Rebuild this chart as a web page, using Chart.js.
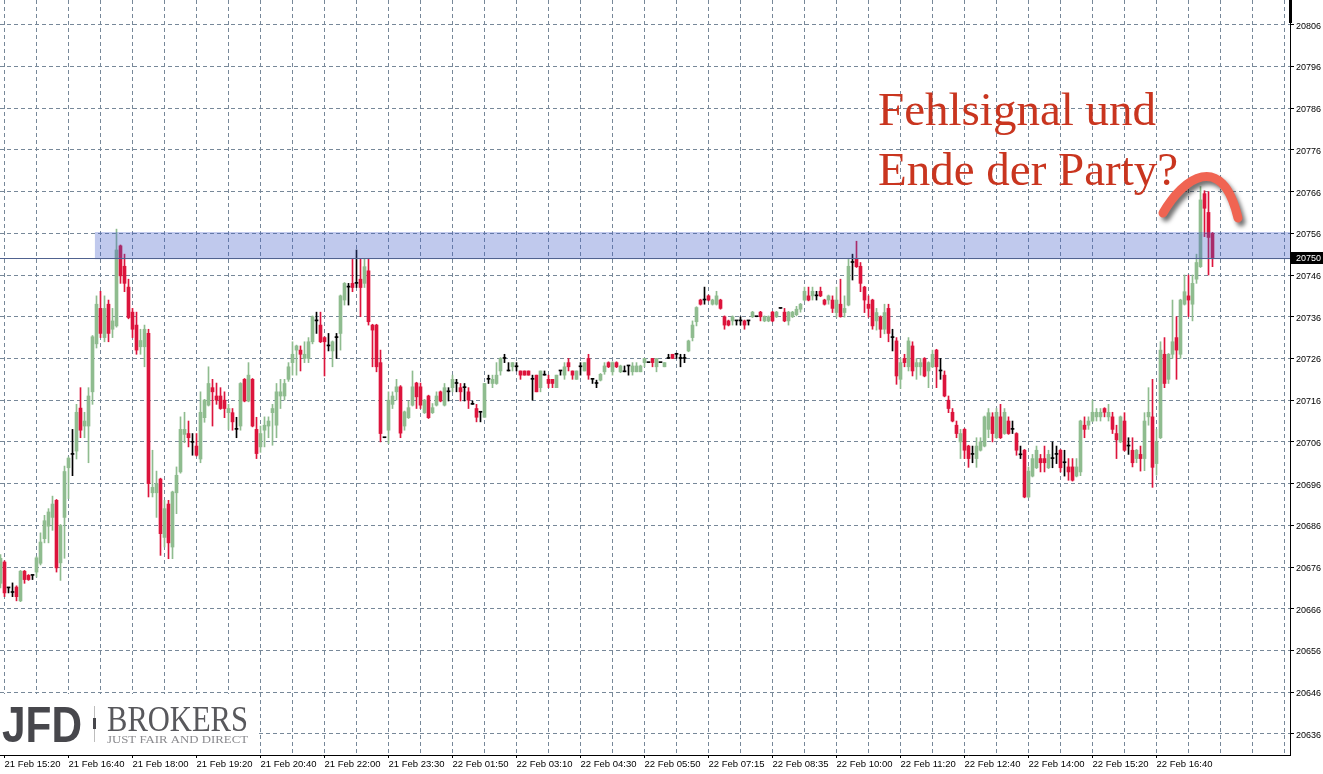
<!DOCTYPE html>
<html>
<head>
<meta charset="utf-8">
<script src="https://cdn.jsdelivr.net/npm/chart.js@4/dist/chart.umd.min.js"></script>
<style>
html,body{margin:0;padding:0;background:#ffffff;}
#wrap{width:1323px;height:774px;position:relative;}
</style>
</head>
<body>
<div id="wrap"><canvas id="c"></canvas></div>
<script>
// ---- tick labels ----
const timeLabels = ['21 Feb 15:20','21 Feb 16:40','21 Feb 18:00','21 Feb 19:20','21 Feb 20:40','21 Feb 22:00','21 Feb 23:30',
  '22 Feb 01:50','22 Feb 03:10','22 Feb 04:30','22 Feb 05:50','22 Feb 07:15','22 Feb 08:35','22 Feb 10:00',
  '22 Feb 11:20','22 Feb 12:40','22 Feb 14:00','22 Feb 15:20','22 Feb 16:40'];
const yTickValues = [20806,20796,20786,20776,20766,20756,20746,20736,20726,20716,20706,20696,20686,20676,20666,20656,20646,20636];

// ---- candle series (M5) ----
const opens = [
20672.1,20677.2,20671.0,20669.9,20671.2,20667.9,20675.0,20674.0,20674.0,20674.8,
20676.9,20682.8,20685.8,20687.9,20692.0,20677.0,20687.9,20699.8,20703.0,20703.8,
20714.1,20709.8,20709.8,20718.0,20729.5,20738.0,20731.0,20739.0,20733.0,20733.8,
20753.0,20748.1,20743.1,20737.1,20734.0,20728.8,20728.8,20732.0,20693.8,20693.8,
20697.1,20683.1,20691.1,20680.8,20693.8,20698.8,20707.8,20708.0,20705.9,20705.0,
20701.9,20711.8,20714.8,20719.0,20717.0,20717.0,20716.0,20713.0,20713.0,20709.0,
20709.8,20721.0,20715.8,20721.0,20709.0,20704.8,20708.8,20709.8,20713.0,20710.0,
20717.0,20717.0,20721.0,20725.0,20728.0,20728.0,20726.0,20726.0,20730.0,20735.0,
20734.0,20731.0,20729.0,20727.8,20731.0,20732.0,20740.0,20743.1,20744.0,20744.0,
20745.0,20744.0,20747.0,20734.0,20734.0,20725.0,20707.0,20708.8,20715.0,20718.0,
20719.2,20709.8,20711.8,20714.8,20720.1,20719.2,20713.0,20717.0,20713.0,20714.8,
20718.0,20714.8,20718.0,20719.0,20720.0,20719.0,20719.0,20718.0,20715.0,20714.0,
20713.1,20711.9,20721.0,20720.0,20720.0,20723.0,20726.0,20723.0,20724.0,20724.0,
20723.0,20723.0,20723.0,20721.0,20722.0,20719.0,20722.0,20721.0,20721.0,20719.0,
20723.0,20722.0,20725.0,20723.0,20721.0,20724.0,20723.0,20726.0,20721.0,20720.0,
20720.8,20722.8,20725.0,20722.8,20725.0,20722.8,20722.8,20724.2,20722.8,20722.8,
20722.8,20725.0,20725.0,20726.0,20724.0,20725.0,20724.0,20726.0,20727.0,20727.0,
20726.0,20726.0,20727.8,20731.0,20734.8,20740.0,20740.0,20741.0,20739.0,20739.0,
20740.0,20736.0,20735.0,20735.0,20735.0,20735.0,20735.0,20735.0,20736.0,20736.0,
20737.1,20735.0,20735.0,20737.1,20736.0,20738.0,20737.1,20735.0,20736.0,20736.5,
20737.8,20740.0,20741.0,20741.0,20741.0,20742.1,20740.0,20740.0,20740.0,20737.0,
20739.0,20737.0,20738.8,20749.0,20750.0,20748.1,20743.1,20739.0,20740.0,20735.0,
20736.0,20733.0,20738.0,20731.0,20730.2,20721.0,20726.0,20724.0,20729.0,20724.0,
20724.0,20726.0,20723.0,20724.0,20728.0,20723.0,20722.0,20716.0,20713.1,20710.0,
20706.0,20709.0,20705.0,20703.0,20702.0,20704.0,20705.0,20709.0,20712.0,20707.0,
20712.0,20708.0,20711.0,20709.0,20708.0,20702.9,20704.0,20692.8,20697.8,20699.8,
20702.0,20702.0,20699.8,20702.0,20703.0,20704.0,20701.0,20700.0,20700.0,20697.8,
20698.8,20710.0,20710.0,20711.0,20712.0,20712.0,20714.0,20712.0,20712.0,20708.0,
20706.0,20711.0,20705.0,20704.0,20702.0,20703.0,20702.0,20712.0,20712.0,20700.8,
20707.0,20727.0,20721.0,20727.0,20731.0,20727.0,20739.0,20741.0,20739.0,20745.0,
20748.0,20765.5,20761.0,20756.0];
const highs = [
20679.0,20677.5,20671.0,20672.2,20671.5,20675.2,20675.2,20674.2,20674.0,20678.5,
20684.2,20688.4,20690.0,20693.0,20692.2,20686.2,20700.2,20702.4,20709.0,20715.0,
20719.0,20713.1,20719.0,20731.5,20741.0,20742.1,20741.0,20740.0,20738.0,20757.0,
20753.2,20751.0,20745.0,20738.0,20737.1,20733.0,20734.0,20733.0,20704.0,20699.0,
20697.3,20692.0,20692.0,20694.2,20700.0,20712.0,20713.1,20711.0,20708.0,20708.0,
20718.0,20716.2,20724.0,20721.0,20720.1,20719.0,20718.0,20715.0,20714.0,20711.9,
20720.2,20721.2,20725.0,20721.2,20711.9,20709.8,20712.0,20712.0,20715.0,20720.0,
20721.0,20721.0,20725.0,20730.0,20729.2,20729.0,20730.0,20731.0,20736.2,20737.1,
20737.1,20731.2,20732.0,20730.2,20732.0,20741.2,20744.2,20744.0,20750.0,20752.0,
20750.0,20750.0,20750.0,20734.2,20734.2,20728.0,20707.0,20718.0,20718.0,20721.0,
20719.5,20713.4,20715.8,20723.0,20720.3,20720.1,20716.2,20717.2,20715.2,20718.0,
20718.2,20720.0,20719.0,20722.0,20721.0,20720.0,20720.0,20719.0,20715.8,20715.0,
20713.1,20720.0,20722.0,20722.0,20725.0,20726.2,20727.0,20725.0,20725.0,20725.0,
20723.0,20723.0,20723.0,20722.0,20722.0,20723.0,20723.0,20722.0,20721.0,20722.0,
20723.0,20725.0,20726.0,20723.0,20723.0,20725.0,20725.0,20727.0,20721.0,20720.8,
20722.4,20725.0,20725.2,20725.2,20725.2,20724.4,20724.2,20724.2,20725.0,20725.0,
20724.4,20726.0,20725.0,20726.0,20726.0,20725.0,20725.0,20727.0,20727.0,20727.0,
20727.0,20727.0,20730.4,20735.0,20738.4,20740.2,20743.1,20741.2,20740.2,20742.1,
20740.2,20736.2,20735.2,20736.2,20735.0,20736.0,20735.2,20735.0,20737.3,20736.0,
20737.3,20736.2,20736.2,20737.3,20737.3,20738.0,20738.0,20737.3,20737.3,20738.5,
20739.2,20743.1,20743.1,20743.1,20742.1,20743.1,20740.2,20741.2,20741.0,20743.1,
20745.0,20741.0,20750.0,20751.0,20754.1,20749.0,20743.3,20741.0,20740.2,20738.0,
20736.2,20739.0,20739.0,20733.0,20731.0,20726.0,20727.0,20731.0,20730.0,20726.0,
20726.0,20726.2,20725.2,20728.0,20728.2,20726.0,20723.0,20717.0,20714.0,20711.0,
20709.0,20709.2,20705.2,20705.0,20707.0,20707.0,20712.2,20714.0,20713.0,20714.0,
20715.0,20714.0,20712.0,20711.0,20708.2,20705.0,20704.2,20700.0,20703.0,20705.0,
20703.0,20705.0,20704.0,20706.0,20705.0,20704.2,20704.0,20702.0,20702.0,20702.0,
20711.2,20712.0,20712.0,20716.0,20714.0,20714.0,20714.2,20715.0,20713.1,20710.0,
20712.2,20713.0,20707.0,20707.0,20704.2,20705.0,20713.0,20719.0,20721.0,20709.0,
20730.0,20731.0,20727.2,20740.0,20736.0,20740.2,20746.0,20746.0,20746.0,20751.0,
20767.2,20766.2,20766.0,20756.2];
const lows = [
20671.0,20668.9,20669.8,20668.9,20667.9,20667.7,20672.1,20672.8,20673.0,20673.6,
20676.5,20681.8,20681.8,20684.8,20674.8,20672.8,20678.1,20692.4,20697.9,20701.9,
20707.0,20707.0,20701.0,20715.0,20728.5,20731.0,20730.0,20730.0,20731.0,20733.5,
20744.0,20742.0,20735.5,20731.0,20727.0,20727.0,20724.0,20692.8,20692.8,20687.9,
20678.8,20680.8,20678.0,20678.0,20688.8,20698.5,20705.8,20704.8,20702.8,20702.6,
20701.0,20710.7,20714.6,20709.8,20715.0,20713.8,20711.8,20709.0,20708.8,20707.0,
20708.8,20715.6,20715.6,20709.6,20702.0,20703.5,20704.8,20707.0,20705.2,20707.0,
20714.0,20716.0,20720.5,20722.0,20722.0,20723.0,20725.0,20725.0,20729.5,20732.0,
20729.8,20721.8,20727.8,20724.0,20726.0,20728.0,20738.8,20738.8,20742.0,20743.0,
20736.0,20743.0,20734.0,20724.0,20722.8,20706.0,20707.0,20705.6,20714.0,20716.0,
20707.0,20708.8,20711.6,20714.6,20714.0,20714.0,20712.8,20711.6,20712.8,20714.6,
20715.6,20714.6,20715.8,20718.0,20718.0,20715.8,20715.8,20714.0,20715.0,20710.8,
20710.8,20711.9,20720.0,20719.0,20719.8,20722.0,20725.0,20723.0,20723.0,20723.0,
20721.0,20722.0,20722.0,20716.0,20718.0,20718.0,20722.0,20719.0,20719.0,20719.0,
20722.0,20721.0,20723.0,20721.0,20721.0,20722.0,20723.0,20721.0,20720.0,20719.0,
20720.6,20722.2,20723.8,20722.0,20723.8,20722.6,20722.8,20722.0,20722.0,20722.8,
20722.8,20724.0,20725.0,20724.0,20722.8,20725.0,20724.0,20726.0,20726.0,20726.0,
20724.0,20725.0,20727.6,20730.2,20733.8,20738.8,20739.0,20739.8,20738.8,20738.8,
20737.8,20733.0,20733.8,20734.0,20734.0,20734.0,20733.0,20734.0,20735.8,20736.0,
20735.0,20734.8,20734.8,20734.8,20735.8,20738.0,20734.8,20734.0,20735.8,20736.2,
20737.1,20739.8,20739.8,20740.0,20740.0,20740.8,20738.8,20739.0,20737.0,20735.9,
20735.9,20735.9,20738.6,20744.8,20747.8,20742.0,20737.0,20735.9,20733.0,20732.8,
20731.0,20731.9,20730.0,20727.8,20719.8,20718.8,20724.0,20723.0,20721.8,20721.0,
20722.0,20721.6,20719.0,20723.8,20719.0,20721.0,20716.8,20713.0,20710.8,20707.0,
20702.0,20702.0,20699.9,20701.0,20699.9,20703.8,20704.8,20707.0,20706.0,20706.8,
20706.8,20707.8,20707.8,20708.0,20702.8,20702.0,20692.6,20692.6,20697.6,20699.6,
20698.8,20698.8,20699.6,20699.8,20700.8,20698.8,20697.8,20696.8,20696.6,20697.6,
20697.9,20707.0,20709.0,20710.8,20711.0,20711.0,20712.0,20711.0,20708.0,20702.0,
20705.8,20703.8,20703.0,20700.0,20701.0,20699.0,20699.1,20710.0,20695.1,20698.0,
20706.8,20719.0,20720.0,20726.0,20721.0,20726.0,20738.8,20736.0,20735.0,20744.0,
20747.8,20755.2,20746.0,20748.0];
const closes = [
20678.1,20669.8,20671.0,20669.9,20668.9,20675.0,20673.0,20673.0,20674.0,20678.2,
20682.0,20687.1,20689.2,20691.1,20675.8,20686.0,20698.9,20702.1,20703.0,20713.1,
20708.8,20711.0,20717.0,20731.2,20739.0,20732.0,20738.0,20732.0,20735.0,20752.0,
20745.8,20744.0,20735.8,20733.0,20728.0,20730.3,20733.0,20696.0,20695.1,20696.0,
20684.0,20690.0,20681.8,20694.0,20698.0,20709.0,20709.0,20707.0,20705.9,20702.8,
20713.1,20716.0,20720.0,20718.0,20716.0,20714.0,20714.0,20714.0,20710.8,20709.0,
20720.0,20715.8,20722.0,20709.8,20703.2,20708.0,20710.0,20711.0,20714.0,20718.0,
20718.0,20720.0,20724.0,20727.0,20729.0,20727.0,20727.0,20730.0,20736.0,20735.0,
20730.0,20730.0,20729.0,20730.0,20731.0,20741.0,20744.0,20743.1,20743.0,20744.0,
20743.0,20748.0,20734.8,20732.8,20724.0,20708.0,20707.0,20716.0,20717.0,20719.2,
20708.1,20713.2,20714.2,20719.2,20716.8,20714.8,20716.0,20711.8,20714.2,20717.0,
20715.8,20719.0,20718.0,20721.0,20720.0,20718.0,20719.0,20716.0,20715.0,20711.9,
20713.1,20720.0,20721.0,20721.0,20722.0,20726.0,20726.0,20723.0,20725.0,20724.0,
20722.0,20722.0,20722.0,20721.0,20718.0,20723.0,20722.0,20720.0,20720.0,20722.0,
20723.0,20724.0,20724.0,20722.0,20723.0,20724.0,20725.0,20722.0,20721.0,20720.0,
20722.2,20724.2,20724.0,20725.0,20724.0,20724.2,20722.8,20724.2,20724.2,20724.2,
20724.2,20726.0,20725.0,20725.0,20726.0,20725.0,20725.0,20726.0,20726.0,20727.0,
20726.0,20726.0,20730.2,20734.0,20738.2,20739.0,20740.0,20740.0,20740.0,20741.0,
20738.0,20734.0,20734.0,20736.0,20735.0,20735.0,20734.0,20735.0,20737.1,20736.0,
20736.0,20736.0,20736.0,20735.0,20737.1,20738.0,20735.0,20737.1,20737.1,20737.8,
20739.0,20742.1,20740.0,20742.1,20741.0,20741.0,20739.0,20741.0,20738.0,20740.0,
20736.0,20738.0,20748.1,20749.0,20748.0,20744.0,20740.0,20738.0,20733.8,20737.0,
20733.0,20737.0,20732.0,20731.0,20721.8,20725.0,20725.0,20730.2,20723.0,20725.0,
20725.0,20721.8,20725.0,20727.0,20724.0,20723.0,20717.0,20714.0,20711.0,20708.0,
20708.0,20704.0,20702.0,20703.0,20705.0,20706.0,20712.0,20713.0,20708.0,20713.1,
20707.0,20713.1,20708.0,20709.0,20704.0,20702.9,20692.8,20699.0,20702.0,20704.0,
20701.0,20701.0,20703.0,20702.0,20703.0,20699.8,20701.0,20698.8,20696.8,20700.0,
20711.0,20709.0,20711.0,20713.1,20713.1,20713.1,20713.1,20713.1,20709.0,20706.5,
20712.0,20704.0,20705.0,20701.0,20704.0,20702.0,20711.0,20713.1,20699.9,20706.0,
20728.0,20720.0,20727.0,20730.0,20728.0,20740.0,20742.0,20740.0,20744.0,20749.0,
20764.0,20762.0,20755.0,20750.0];

// ---- marked zone and current price ----
const zoneLow = 20749.8, zoneHigh = 20756.3, zoneStartIndex = 23.6;
const bidPrice = 20750;

const UP = '#8FBC8F', DOWN = '#DC143C', FLAT = '#000000';
const N = opens.length;
const idx = Array.from({length: N}, (_, i) => i);
function candleColor(i) {
  return closes[i] > opens[i] ? UP : (closes[i] < opens[i] ? DOWN : FLAT);
}
const gridIdx = [];
for (let k = 0; 1 + 8 * k <= 321; k++) gridIdx.push(1 + 8 * k);
function labelFor(v) {
  if ((v - 1) % 16 !== 0) return '';
  const t = timeLabels[(v - 1) / 16];
  return t || '';
}

function fitText(ctx, text, x, y, width) {
  const w = ctx.measureText(text).width;
  ctx.save();
  ctx.translate(x, y);
  ctx.scale(width / w, 1);
  ctx.fillText(text, 0, 0);
  ctx.restore();
}

const overlay = {
  id: 'overlay',
  afterDatasetsDraw(chart) {
    const {ctx, chartArea: a, scales: {x, y}} = chart;
    ctx.save();
    const x0 = x.getPixelForValue(zoneStartIndex);
    const yT = y.getPixelForValue(zoneHigh), yB = y.getPixelForValue(zoneLow);
    ctx.fillStyle = 'rgba(65,90,200,0.33)';
    ctx.fillRect(x0, yT, a.right - x0, yB - yT);
    const yb = Math.round(y.getPixelForValue(bidPrice)) + 0.5;
    ctx.strokeStyle = '#50628f';
    ctx.lineWidth = 1;
    ctx.beginPath(); ctx.moveTo(a.left, yb); ctx.lineTo(a.right, yb); ctx.stroke();
    ctx.fillStyle = '#ffffff';
    ctx.fillRect(0, 694, 258, a.bottom - 694);
    ctx.textBaseline = 'alphabetic';
    ctx.textAlign = 'left';
    ctx.fillStyle = '#47474c';
    ctx.font = 'bold 50px "Liberation Sans"';
    fitText(ctx, 'JFD', 2, 742, 80);
    ctx.fillStyle = '#bdbdbd';
    ctx.fillRect(94, 706, 1, 36);
    ctx.fillStyle = '#47474c';
    ctx.fillRect(93, 718, 3, 11);
    ctx.fillStyle = '#58585c';
    ctx.font = '35px "Liberation Serif"';
    fitText(ctx, 'BROKERS', 107, 731, 141);
    ctx.fillStyle = '#8a8a8e';
    ctx.font = '10.5px "Liberation Serif"';
    fitText(ctx, 'JUST FAIR AND DIRECT', 107, 743, 141);
    ctx.restore();
  },
  afterDraw(chart) {
    const {ctx, chartArea: a, scales: {y}} = chart;
    ctx.save();
    const yb = Math.round(y.getPixelForValue(bidPrice));
    ctx.fillStyle = '#000';
    ctx.fillRect(a.right + 1, yb - 6, 33, 12);
    ctx.fillStyle = '#fff';
    ctx.font = '9px "Liberation Sans"';
    ctx.textBaseline = 'middle';
    ctx.textAlign = 'left';
    ctx.fillText(String(bidPrice), a.right + 6, yb + 0.5);
    ctx.fillStyle = '#000';
    ctx.fillRect(a.right - 1, 0, 3, 23);
    ctx.fillStyle = '#C9351F';
    ctx.font = '47px "Liberation Serif"';
    ctx.textBaseline = 'alphabetic';
    ctx.fillText('Fehlsignal und', 878, 125);
    ctx.fillText('Ende der Party?', 878, 185);
    ctx.lineWidth = 9;
    ctx.lineCap = 'round';
    ctx.strokeStyle = '#F06452';
    ctx.shadowColor = 'rgba(0,0,0,0.55)';
    ctx.shadowBlur = 4;
    ctx.shadowOffsetX = 3;
    ctx.shadowOffsetY = 4;
    ctx.beginPath();
    ctx.moveTo(1163, 213);
    ctx.bezierCurveTo(1183, 178, 1222, 150, 1238, 218);
    ctx.stroke();
    ctx.restore();
  }
};

Chart.defaults.font.family = '"Liberation Sans", Arial, sans-serif';
Chart.defaults.color = '#000';

new Chart(document.getElementById('c'), {
  type: 'bar',
  data: {
    datasets: [
      {
        label: 'body',
        data: idx.map(i => ({x: i, y: [opens[i], closes[i]]})),
        barThickness: 3,
        minBarLength: 1,
        grouped: false,
        borderWidth: 0,
        backgroundColor: c => candleColor(c.dataIndex),
        order: 0
      },
      {
        label: 'wick',
        data: idx.map(i => ({x: i, y: [lows[i], highs[i]]})),
        barThickness: 1,
        grouped: false,
        borderWidth: 0,
        backgroundColor: c => candleColor(c.dataIndex),
        order: 1
      }
    ]
  },
  options: {
    responsive: true,
    maintainAspectRatio: false,
    animation: false,
    devicePixelRatio: 1,
    events: [],
    layout: {padding: 0},
    plugins: {legend: {display: false}, tooltip: {enabled: false}},
    scales: {
      x: {
        type: 'linear',
        min: -0.125,
        max: 322.375,
        offset: false,
        grid: {
          offset: false,
          color: '#778899',
          lineWidth: 1,
          drawTicks: true,
          tickLength: 3,
          tickWidth: 1,
          tickBorderDash: [],
          tickColor: c => (c.tick && labelFor(c.tick.value)) ? '#000' : 'rgba(0,0,0,0)'
        },
        border: {display: true, color: '#000', width: 1, dash: [4, 3]},
        ticks: {
          autoSkip: false, maxRotation: 0, minRotation: 0, align: 'start', padding: 1,
          color: '#000', font: {family: '"Liberation Sans"', size: 9.5},
          callback: v => labelFor(v)
        },
        afterBuildTicks: s => { s.ticks = gridIdx.map(v => ({value: v})); },
        afterFit: s => { s.height = 19; s.paddingLeft = 0; s.paddingRight = 0; s.paddingTop = 0; s.paddingBottom = 0; }
      },
      y: {
        type: 'linear',
        position: 'right',
        min: 20630.95,
        max: 20811.92,
        grid: {
          color: '#778899',
          lineWidth: 1,
          drawTicks: true,
          tickLength: 4,
          tickWidth: 1,
          tickColor: '#000',
          tickBorderDash: []
        },
        border: {display: true, color: '#000', width: 1, dash: [4, 3]},
        ticks: {
          padding: 2, labelOffset: 1.5, color: '#000', font: {family: '"Liberation Sans"', size: 9},
          callback: v => String(v)
        },
        afterBuildTicks: s => { s.ticks = yTickValues.map(v => ({value: v})); },
        afterFit: s => { s.width = 33; s.paddingLeft = 0; s.paddingRight = 0; s.paddingTop = 0; s.paddingBottom = 0; }
      }
    }
  },
  plugins: [overlay]
});
</script>
</body>
</html>
